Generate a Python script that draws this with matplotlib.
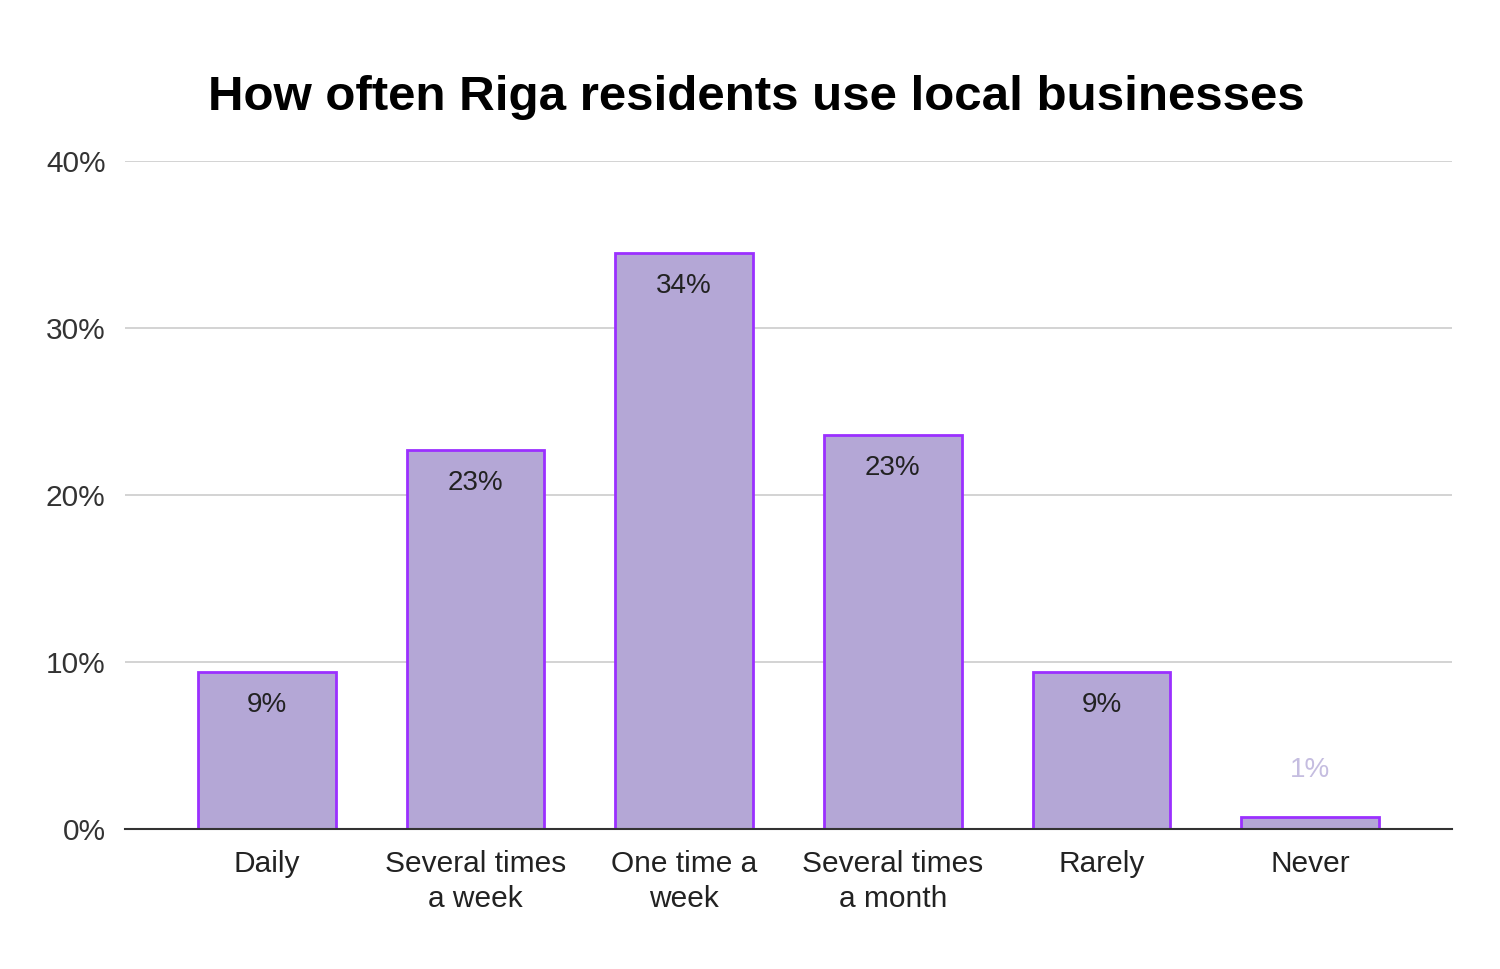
import matplotlib
matplotlib.use("Agg")
from matplotlib import pyplot as plt

categories = ["Daily", "Several times\na week", "One time a\nweek", "Several times\na month", "Rarely", "Never"]
shares = [9.4, 22.7, 34.5, 23.6, 9.4, 0.7]
labels = ["9%", "23%", "34%", "23%", "9%", "1%"]
yticks = [0, 10, 20, 30, 40]

plt.rcParams['font.family'] = ['Liberation Sans', 'DejaVu Sans']

fig = plt.figure(figsize=(15, 9.69), dpi=100)
ax = fig.add_axes([0.0833, 0.1445, 0.8847, 0.6893])

xs = range(len(categories))
ax.bar(xs, shares, width=0.66, color="#b4a7d6", edgecolor="#9b30ff", linewidth=2, zorder=3)

for x, v, lab in zip(xs, shares, labels):
    if v > 3:
        ax.annotate(lab, (x, v), xytext=(0, -24), textcoords="offset points",
                    ha="center", va="center", fontsize=20, color="#222222")
    else:
        ax.annotate(lab, (x, v), xytext=(0, 34), textcoords="offset points",
                    ha="center", va="center", fontsize=20, color="#c5bde0")

ax.set_xlim(-0.68, len(categories) - 1 + 0.68)
ax.set_ylim(0, 40)
ax.set_yticks(yticks)
ax.set_yticklabels(["{0}%".format(t) for t in yticks], fontsize=21.5, color="#333333")
ax.set_xticks(list(xs))
ax.set_xticklabels(categories, fontsize=21.5, color="#222222", linespacing=1.32)
ax.tick_params(length=0, pad=14)
ax.tick_params(axis="x", pad=15)

ax.grid(axis="y", color="#cccccc", linewidth=1.2, zorder=0)
for s in ["top", "right", "left"]:
    ax.spines[s].set_visible(False)
ax.spines["bottom"].set_color("#333333")
ax.spines["bottom"].set_linewidth(1.5)
ax.spines["bottom"].set_zorder(4)

fig.text(0.504, 0.899, "How often Riga residents use local businesses",
         ha="center", va="center", fontsize=35.5, fontweight="bold", color="#000000")

fig.savefig("out.png")
